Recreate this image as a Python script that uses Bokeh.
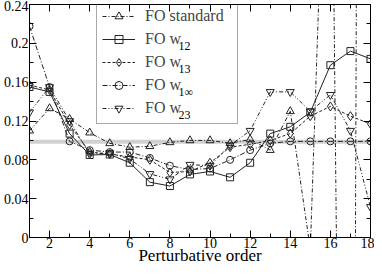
from bokeh.plotting import figure
from bokeh.models import Range1d, FixedTicker, LinearAxis, Span, Legend, LegendItem, Label
from bokeh.embed import file_html
from bokeh.resources import INLINE

# ---------------- data ----------------
orders = list(range(1, 19))
fo_standard = [0.110, 0.133, 0.122, 0.108, 0.097, 0.093, 0.094, 0.098, 0.100, 0.100,
               0.097, 0.101, 0.090, 0.130, -0.012, 0.60, -1.4, 4.2]
fo_w12 = [0.155, 0.150, 0.107, 0.085, 0.0855, 0.077, 0.057, 0.053, 0.065, 0.068,
          0.062, 0.077, 0.107, 0.114, 0.129, 0.1775, 0.192, 0.184]
fo_w13 = [0.157, 0.152, 0.116, 0.088, 0.086, 0.083, 0.080, 0.067, 0.068, 0.077,
          0.093, 0.096, 0.100, 0.107, 0.125, 0.135, 0.125, 0.117]
fo_w1inf = [0.2175, 0.155, 0.099, 0.090, 0.088, 0.088, 0.082, 0.074, 0.070, 0.071,
            0.080, 0.090, 0.097, 0.099, 0.099, 0.099, 0.099, 0.099]
fo_w23 = [0.129, 0.155, 0.120, 0.086, 0.087, 0.081, 0.0655, 0.060, 0.075, 0.074,
          0.095, 0.110, 0.150, 0.150, 0.130, 0.147, 0.110, 0.0315]
reference_level = 0.0985

series_names = ["FO standard", "FO w", "FO w", "FO w", "FO w"]
series_subs = ["", "12", "13", "1\u221e", "23"]

x_ticks = [2, 4, 6, 8, 10, 12, 14, 16, 18]
x_minor = [1, 3, 5, 7, 9, 11, 13, 15, 17]
y_ticks = [0, 0.04, 0.08, 0.12, 0.16, 0.2, 0.24]
y_minor = [0.02, 0.06, 0.10, 0.14, 0.18, 0.22]
y_tick_labels = ["0", "0.04", "0.08", "0.12", "0.16", "0.2", "0.24"]
x_label = "Perturbative order"

FONT = "Liberation Serif"
BORDER_TOP = 4
BORDER_BOTTOM = 28
HEIGHT = 267
FRAME_H = HEIGHT - BORDER_TOP - BORDER_BOTTOM

p = figure(width=374, height=HEIGHT, output_backend="svg", toolbar_location=None,
           x_range=Range1d(1, 18), y_range=Range1d(0, 0.24),
           min_border_left=0, min_border_right=4, min_border_top=BORDER_TOP,
           min_border_bottom=BORDER_BOTTOM)
p.grid.visible = False
p.outline_line_color = "black"
p.outline_line_width = 1
p.background_fill_color = "white"

xt = FixedTicker(ticks=x_ticks, minor_ticks=x_minor)
yt = FixedTicker(ticks=y_ticks, minor_ticks=y_minor)


def style_axis(ax, labels=True):
    ax.major_tick_in = 7
    ax.major_tick_out = 0
    ax.minor_tick_in = 4
    ax.minor_tick_out = 0
    ax.axis_line_color = "black"
    ax.major_tick_line_color = "black"
    ax.minor_tick_line_color = "black"
    ax.major_label_text_font = FONT
    if labels:
        ax.major_label_text_font_size = "14px"
        ax.major_label_text_color = "black"
        ax.major_label_standoff = 1
    else:
        ax.major_label_text_font_size = "1px"
        ax.major_label_text_color = None
        ax.major_label_standoff = 0
    ax.axis_label_text_font = FONT
    ax.axis_label_text_font_style = "normal"
    ax.axis_label_text_font_size = "17px"
    ax.axis_label_text_color = "black"
    ax.axis_label_standoff = 0


p.xaxis.ticker = xt
p.yaxis.ticker = yt
style_axis(p.xaxis[0])
style_axis(p.yaxis[0])
p.yaxis.major_label_overrides = dict(zip(y_ticks, y_tick_labels))
p.xaxis.axis_label = x_label
p.xaxis.axis_label_standoff = -5
p.xaxis.major_label_standoff = 0

top_ax = LinearAxis(ticker=xt)
style_axis(top_ax, labels=False)
p.add_layout(top_ax, "above")
right_ax = LinearAxis(ticker=yt)
style_axis(right_ax, labels=False)
p.add_layout(right_ax, "right")

band = Span(location=reference_level, dimension="width", line_color="#d0d0d0",
            line_width=4, level="underlay")
p.add_layout(band)

styles = [
    (fo_standard, "triangle", "4 2 1 2", 8),
    (fo_w12, "square", "solid", 7),
    (fo_w13, "diamond", "3 2", 9),
    (fo_w1inf, "circle", "5 2 1 2", 7),
    (fo_w23, "inverted_triangle", "4 2 1 2 1 2", 8),
]

items = []
for (vals, marker, dash, size), name in zip(styles, series_names):
    lr = p.line(orders, vals, line_color="#222222", line_width=1, line_dash=dash)
    sr = p.scatter(orders, vals, marker=marker, size=size, line_color="#222222",
                   line_width=1, fill_color="white", fill_alpha=0.0)
    items.append(LegendItem(label=name, renderers=[lr, sr]))

LEG_X = 67
LEG_PAD = 5
ROW_H = 20
ROW_GAP = 3
GLYPH_W = 33
STANDOFF = 10
LEG_H = 2 * LEG_PAD + 5 * ROW_H + 4 * ROW_GAP
legend = Legend(items=items, location=(LEG_X, FRAME_H - LEG_H))
legend.label_text_font = FONT
legend.label_text_font_size = "16px"
legend.label_height = ROW_H
legend.label_width = 87
legend.glyph_height = ROW_H
legend.glyph_width = GLYPH_W
legend.label_standoff = STANDOFF
legend.spacing = ROW_GAP
legend.padding = LEG_PAD
legend.margin = 0
legend.border_line_color = "#555555"
legend.border_line_width = 1.5
legend.background_fill_alpha = 0.0
p.add_layout(legend, "center")

# subscripts for the legend labels
for i, sub in enumerate(series_subs):
    if not sub:
        continue
    yc = FRAME_H - LEG_PAD - ROW_H / 2 - i * (ROW_H + ROW_GAP) - 5
    p.add_layout(Label(x=LEG_X + LEG_PAD + GLYPH_W + STANDOFF + 34, y=yc,
                       x_units="screen", y_units="screen", text=sub, text_font=FONT,
                       text_font_size="12px", text_baseline="middle",
                       text_align="left", text_color="black", level="overlay"))

open("out.html", "w").write(file_html(p, INLINE))
